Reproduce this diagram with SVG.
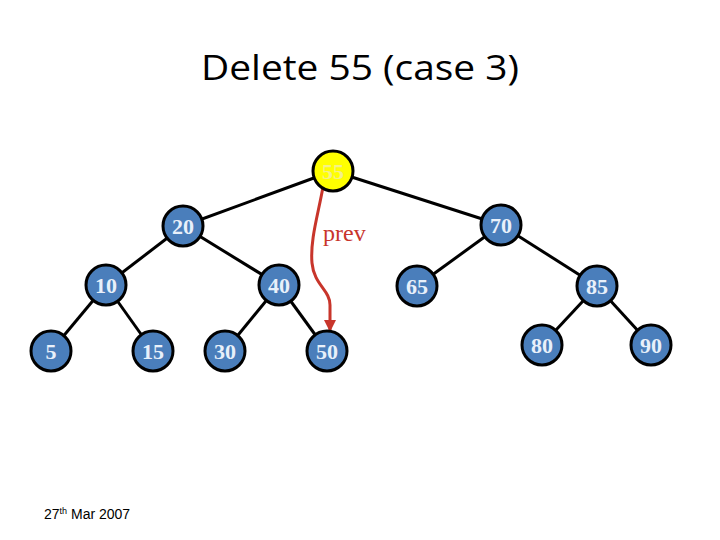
<svg xmlns="http://www.w3.org/2000/svg" width="720" height="540" viewBox="0 0 720 540">
<defs>
<style>
.edge{stroke:#000;stroke-width:3;fill:none}
.node circle{fill:#4a7ebb;stroke:#000;stroke-width:3}
.node text{font-family:"Liberation Serif",serif;font-size:22px;font-weight:bold;fill:#e8f0fa;text-anchor:middle}
.hl circle{fill:#ffff00}
.hl text{fill:#f4f08a}
</style>
<marker id="ah" markerWidth="12" markerHeight="12" refX="11" refY="6" orient="auto" markerUnits="userSpaceOnUse">
<path d="M0,0 L12,6 L0,12 z" fill="#c8352b"/>
</marker>
</defs>
<rect width="720" height="540" fill="#fff"/>
<text x="360" y="80" font-family="'Open Sans','Liberation Sans',sans-serif" font-size="35" text-anchor="middle" textLength="318" lengthAdjust="spacingAndGlyphs">Delete 55 (case 3)</text>
<g id="connectors">
<line class="edge" x1="333" y1="171" x2="183" y2="226"/>
<line class="edge" x1="333" y1="171" x2="501" y2="225"/>
<line class="edge" x1="183" y1="226" x2="106" y2="285"/>
<line class="edge" x1="183" y1="226" x2="279" y2="285"/>
<line class="edge" x1="106" y1="285" x2="51" y2="351"/>
<line class="edge" x1="106" y1="285" x2="153" y2="351"/>
<line class="edge" x1="279" y1="285" x2="225" y2="351"/>
<line class="edge" x1="279" y1="285" x2="327" y2="351"/>
<line class="edge" x1="501" y1="225" x2="417" y2="286"/>
<line class="edge" x1="501" y1="225" x2="597" y2="286"/>
<line class="edge" x1="597" y1="286" x2="542" y2="345"/>
<line class="edge" x1="597" y1="286" x2="651" y2="345"/>
<path d="M323,187 C318,215 310,240 312,263 C314,285 330,290 330,305 L330,331" stroke="#c8352b" stroke-width="3" fill="none" marker-end="url(#ah)"/>
</g>
<text x="323" y="241" font-family="'Liberation Serif',serif" font-size="24" fill="#c8352b">prev</text>
<g id="n55" class="node hl"><circle cx="333" cy="171" r="20"/><text x="333" y="179">55</text></g>
<g id="n20" class="node"><circle cx="183" cy="226" r="20"/><text x="183" y="234">20</text></g>
<g id="n70" class="node"><circle cx="501" cy="225" r="20"/><text x="501" y="233">70</text></g>
<g id="n10" class="node"><circle cx="106" cy="285" r="20"/><text x="106" y="293">10</text></g>
<g id="n40" class="node"><circle cx="279" cy="285" r="20"/><text x="279" y="293">40</text></g>
<g id="n65" class="node"><circle cx="417" cy="286" r="20"/><text x="417" y="294">65</text></g>
<g id="n85" class="node"><circle cx="597" cy="286" r="20"/><text x="597" y="294">85</text></g>
<g id="n5" class="node"><circle cx="51" cy="351" r="20"/><text x="51" y="359">5</text></g>
<g id="n15" class="node"><circle cx="153" cy="351" r="20"/><text x="153" y="359">15</text></g>
<g id="n30" class="node"><circle cx="225" cy="351" r="20"/><text x="225" y="359">30</text></g>
<g id="n50" class="node"><circle cx="327" cy="351" r="20"/><text x="327" y="359">50</text></g>
<g id="n80" class="node"><circle cx="542" cy="345" r="20"/><text x="542" y="353">80</text></g>
<g id="n90" class="node"><circle cx="651" cy="345" r="20"/><text x="651" y="353">90</text></g>
<text x="44" y="519" font-family="'Liberation Sans',sans-serif" font-size="14" fill="#000">27<tspan font-size="9" dy="-5">th</tspan><tspan dy="5"> Mar 2007</tspan></text>
</svg>
